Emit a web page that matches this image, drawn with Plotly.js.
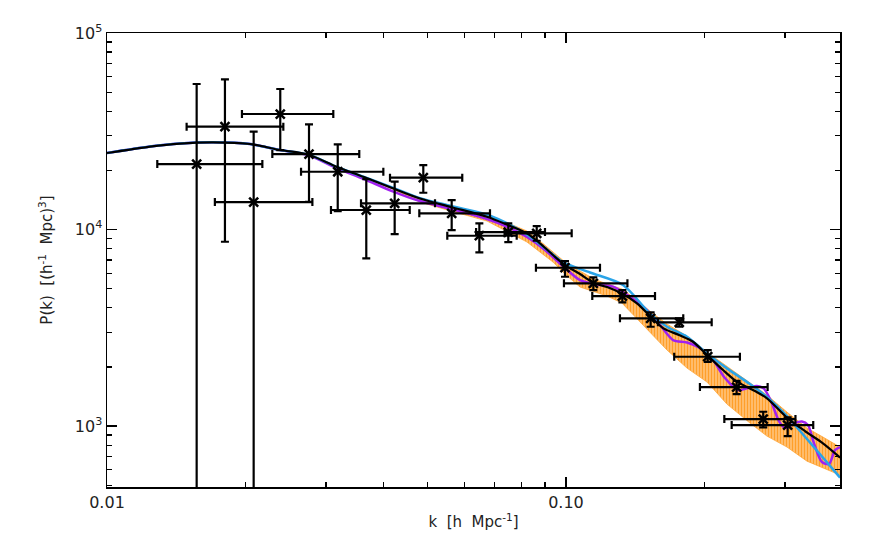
<!DOCTYPE html>
<html>
<head>
<meta charset="utf-8">
<script src="https://cdn.plot.ly/plotly-3.0.1.min.js"></script>
<style>html,body{margin:0;padding:0;background:#fff;}#chart{width:872px;height:554px;}</style>
</head>
<body>
<div id="chart"></div>
<script>
// ---- model curves ----
const blackK = [0.0100,0.01241,0.01442,0.01702,0.02049,0.02382,0.02741,0.03170,0.03630,0.04178,0.04808,0.05616,0.06728,0.07474,0.08222,0.08776,0.09369,0.09950,0.1073,0.1151,0.1229,0.1324,0.1428,0.1532,0.1627,0.1763,0.1891,0.2029,0.2198,0.2347,0.2581,0.2741,0.3030,0.3317,0.3630,0.3955];
const blackP = [24510,26440,27390,27780,27230,25380,24080,20810,18500,16260,14380,13020,11620,10540,9565,8507,7417,6596,5936,5342,5097,4723,4211,3586,3152,2905,2685,2298,1928,1694,1507,1384,1105,943,817,691];

const blueK = [0.0100,0.01241,0.01442,0.01702,0.02049,0.02382,0.02741,0.03170,0.03630,0.04178,0.04808,0.05616,0.06830,0.08058,0.09000,0.09851,0.1128,0.1331,0.1524,0.1660,0.1835,0.2029,0.2242,0.2517,0.2741,0.3030,0.3350,0.3955];
const blueP = [24510,26440,27390,27780,27230,25380,24080,20810,18500,16400,14450,13170,11780,9712,8051,6832,6042,5219,3736,3201,2848,2344,1966,1636,1405,1124,859,547];

const purpleK = [0.0100,0.01241,0.01442,0.01702,0.02049,0.02382,0.02741,0.03170,0.03630,0.04178,0.04808,0.05616,0.06728,0.07474,0.08222,0.09000,0.09950,0.1073,0.1186,0.1266,0.1379,0.1501,0.1603,0.1711,0.1835,0.1958,0.2091,0.2220,0.2370,0.2491,0.2606,0.2699,0.2796,0.2911,0.3000,0.3153,0.3266,0.3366,0.3469,0.3611,0.3741,0.3855,0.3955];
const purpleP = [24510,26440,27390,27780,27230,25380,23900,20500,18070,15700,13960,12720,11310,10290,9158,7866,6370,5534,5219,5127,4550,3893,3266,2740,2660,2494,2167,1755,1525,1561,1598,1551,1341,1060,977,1036,1054,1012,819,656,641,755,782];

// orange model: rapidly oscillating, drawn as its upper/lower envelope
const orangeK = [0.03630,0.04178,0.04808,0.05616,0.06728,0.07474,0.08222,0.08776,0.09369,0.09950,0.1073,0.1151,0.1229,0.1324,0.1428,0.1532,0.1660,0.1835,0.2029,0.2242,0.2517,0.2741,0.3030,0.3350,0.3630,0.3955];
const orangeUpper = [18600,16350,14460,13250,11850,10790,9827,8739,7683,6832,6149,5600,5280,4980,4378,3803,3304,2871,2380,2020,1655,1438,1178,977,879,782];
const orangeLower = [18400,16100,13800,12420,11050,9712,8638,7683,6832,5936,5097,4807,4587,4227,3545,2974,2437,1973,1675,1294,1036,889,782,663,611,563];

// ---- measurements ----
const dataK = [0.01568,0.01807,0.02087,0.02385,0.02755,0.03182,0.03672,0.04234,0.04888,0.05636,0.06475,0.07487,0.08634,0.09950,0.1147,0.1327,0.1529,0.1765,0.2036,0.2354,0.2690,0.3041];
const dataP = [21540,33370,13800,38710,24220,19680,12570,13590,18350,12090,9299,9712,9565,6392,5323,4587,3532,3371,2253,1579,1085,1012];
const kLow  = [0.01287,0.01491,0.01718,0.01968,0.02292,0.02647,0.03076,0.03576,0.04136,0.04791,0.05513,0.06370,0.07349,0.08601,0.09899,0.1141,0.1311,0.1586,0.1721,0.1958,0.2213,0.2296];
const kHigh = [0.02180,0.02422,0.02802,0.03112,0.03545,0.04000,0.04566,0.05184,0.05943,0.06830,0.07809,0.0900,0.1029,0.1186,0.1361,0.1563,0.1801,0.2077,0.2393,0.2750,0.3162,0.3457];
const pLow  = [0,8668,0,25380,13850,12420,7134,9487,15390,9942,7656,8638,8770,5752,4921,4262,3201,3201,2124,1455,985,889];
const pHigh = [55020,58120,31460,51880,34310,27140,18070,17510,21290,14130,10750,10750,10420,6914,5711,4921,3789,3532,2437,1700,1183,1107];

// ---- ticks ----
const xTickVals = [0.01, 0.1];
const xTickText = ['0.01', '0.10'];
const xMinorVals = [0.02,0.03,0.04,0.05,0.06,0.07,0.08,0.09,0.2,0.3];
const yTickVals = [1000, 10000, 100000];
const yTickText = ['10<sup>3</sup>', '10<sup>4</sup>', '10<sup>5</sup>'];
const yMinorVals = [500,600,700,800,900,2000,3000,4000,5000,6000,7000,8000,9000,20000,30000,40000,50000,60000,70000,80000,90000];

const ORANGE = '#ff9f2a', PURPLE = '#a020f0', BLUE = '#2aa4e8', BLACK = '#000000';

const traces = [
  { x: orangeK.concat(orangeK.slice().reverse()),
    y: orangeUpper.concat(orangeLower.slice().reverse()),
    mode: 'lines', fill: 'toself', fillcolor: 'rgba(0,0,0,0)',
    fillpattern: {shape: '|', fgcolor: ORANGE, bgcolor: 'rgba(255,255,255,0)', size: 3, solidity: 0.8},
    line: {color: 'rgba(255,159,42,0.7)', width: 1}, hoverinfo: 'skip' },
  { x: purpleK, y: purpleP, mode: 'lines', line: {color: PURPLE, width: 2.5, shape: 'spline', smoothing: 0.8} },
  { x: blueK, y: blueP, mode: 'lines', line: {color: BLUE, width: 2.5, shape: 'spline', smoothing: 0.8} },
  { x: blackK, y: blackP, mode: 'lines', line: {color: BLACK, width: 2.2, shape: 'spline', smoothing: 0.8} },
  { x: dataK, y: dataP, mode: 'markers',
    marker: {symbol: 'x-thin', size: 9, color: BLACK, line: {color: BLACK, width: 2.5}},
    error_x: {type: 'data', symmetric: false,
      array: dataK.map((v,i) => kHigh[i] - v),
      arrayminus: dataK.map((v,i) => v - kLow[i]),
      color: BLACK, thickness: 2.2, width: 4},
    error_y: {type: 'data', symmetric: false,
      array: dataP.map((v,i) => pHigh[i] - v),
      arrayminus: dataP.map((v,i) => v - pLow[i]),
      color: BLACK, thickness: 2.2, width: 4} }
];

const axisCommon = {
  ticks: 'inside', ticklen: 10, tickwidth: 1.3, tickcolor: BLACK,
  showline: true, linecolor: BLACK, linewidth: 1.5, mirror: 'allticks',
  showgrid: false, zeroline: false,
  tickfont: {family: 'DejaVu Sans, sans-serif', size: 16, color: '#222'}
};

const layout = {
  width: 872, height: 554,
  margin: {l: 107, r: 32, t: 33, b: 67},
  paper_bgcolor: 'white', plot_bgcolor: 'white',
  showlegend: false,
  font: {family: 'DejaVu Sans, sans-serif', color: '#222', size: 15},
  xaxis: Object.assign({}, axisCommon, {
    type: 'log', range: [-2, -0.403],
    tickmode: 'array', tickvals: xTickVals, ticktext: xTickText,
    minor: {tickmode: 'array', tickvals: xMinorVals, ticks: 'inside', ticklen: 5, tickwidth: 1.2, tickcolor: BLACK, showgrid: false},
    title: {text: 'k  [h  Mpc<sup>-1</sup>]', font: {size: 15, color: '#222'}, standoff: 6}
  }),
  yaxis: Object.assign({}, axisCommon, {
    type: 'log', range: [2.69, 5],
    tickmode: 'array', tickvals: yTickVals, ticktext: yTickText,
    minor: {tickmode: 'array', tickvals: yMinorVals, ticks: 'inside', ticklen: 5, tickwidth: 1.2, tickcolor: BLACK, showgrid: false},
    title: {text: 'P(k)  [(h<sup>-1</sup>  Mpc)<sup>3</sup>]', font: {size: 15, color: '#222'}, standoff: 18}
  })
};

Plotly.newPlot('chart', traces, layout, {staticPlot: true, displayModeBar: false});
</script>
</body>
</html>
